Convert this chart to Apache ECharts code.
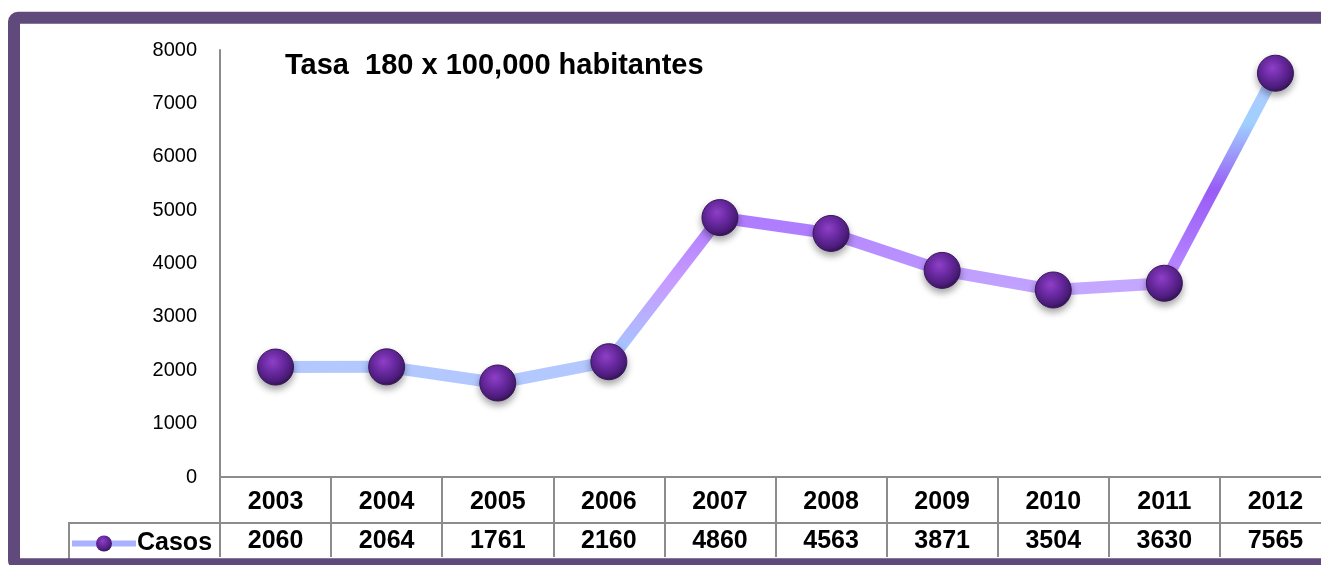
<!DOCTYPE html>
<html>
<head>
<meta charset="utf-8">
<script src="https://cdn.jsdelivr.net/npm/echarts@6/dist/echarts.min.js"></script>
<style>
html,body{margin:0;padding:0;background:#fff;overflow:hidden;}
#chart{width:1340px;height:565px;}
</style>
</head>
<body>
<div id="chart"></div>
<script>
// ---- data ----
const years = ['2003','2004','2005','2006','2007','2008','2009','2010','2011','2012'];
const casos = [2060, 2064, 1761, 2160, 4860, 4563, 3871, 3504, 3630, 7565];
const seriesName = 'Casos';
const titleText = 'Tasa  180 x 100,000 habitantes';
const yTicks = [0, 8000, 1000]; // min, max, interval

// ---- styling (per-segment line gradients, top -> bottom) ----
const segStops = [
  [[0,'#b3c8ff'],[1,'#b3c8ff']],
  [[0,'#b3c8ff'],[1,'#b3c8ff']],
  [[0,'#b3c8ff'],[1,'#b3c8ff']],
  [[0,'#ad78ff'],[0.45,'#c79cff'],[0.8,'#aebcff'],[1,'#9ccfff']],
  [[0,'#ae7bff'],[1,'#b080ff']],
  [[0,'#b589ff'],[1,'#bb95ff']],
  [[0,'#bf9eff'],[1,'#c2a3ff']],
  [[0,'#c4a7ff'],[1,'#c4a7ff']],
  [[0,'#b9c6ff'],[0.25,'#9fd0ff'],[0.55,'#995cf5'],[0.85,'#b07eff'],[1,'#c898ff']]
];

const chart = echarts.init(document.getElementById('chart'), null, {renderer:'canvas'});
const FONT = '"Liberation Sans", Arial, sans-serif';

const segSeries = segStops.map((stops, i) => ({
  type: 'line',
  name: 'seg' + i,
  z: 2,
  silent: true,
  showSymbol: false,
  symbol: 'none',
  connectNulls: false,
  data: casos.map((v, j) => (j === i || j === i + 1) ? v : '-'),
  lineStyle: {
    width: 12,
    cap: 'butt',
    color: {type:'linear', x:0, y:0, x2:0, y2:1,
      colorStops: stops.map(s => ({offset:s[0], color:s[1]}))}
  },
  animation: false
}));

const markerColor = {type:'radial', x:0.42, y:0.35, r:0.65, colorStops:[
  {offset:0, color:'#8f40c8'},
  {offset:0.45, color:'#6b2aa3'},
  {offset:0.85, color:'#4a1c78'},
  {offset:1, color:'#331452'}
]};

const option = {
  backgroundColor: '#ffffff',
  animation: false,
  textStyle: {fontFamily: FONT},
  title: {
    text: titleText,
    left: 280, top: 46,
    textStyle: {fontFamily: FONT, fontSize: 29, fontWeight: 'bold', color: '#000'}
  },
  legend: {
    data: [seriesName],
    left: 64, top: 526,
    itemWidth: 64, itemHeight: 20,
    textStyle: {fontFamily: FONT, fontSize: 25, fontWeight: 'bold', color: '#000', padding:[0,0,0,-4]},
    lineStyle: {color: '#a9b2ff', width: 6, opacity: 1},
    itemStyle: {color: markerColor, borderWidth: 0, opacity: 1}
  },
  grid: {left: 220, right: 9, top: 50, bottom: 88, containLabel: false},
  xAxis: [
    {
      type: 'category', data: years, position: 'bottom',
      boundaryGap: true,
      axisLine: {show: true, lineStyle: {color: '#8c8c8c', width: 2}},
      axisTick: {show: true, interval: 0, length: 80, alignWithLabel: false,
        lineStyle: {color: '#8c8c8c', width: 2}},
      axisLabel: {interval: 0, margin: 13, fontFamily: FONT, fontSize: 25, fontWeight: 'bold', color: '#000'},
      splitLine: {show: false}
    },
    {
      type: 'category', data: years, position: 'bottom', offset: 46,
      boundaryGap: true,
      axisLine: {show: false},
      axisTick: {show: false},
      axisLabel: {interval: 0, margin: 6, fontFamily: FONT, fontSize: 25, fontWeight: 'bold', color: '#000',
        formatter: (v, i) => String(casos[i])},
      splitLine: {show: false}
    }
  ],
  yAxis: {
    type: 'value', min: yTicks[0], max: yTicks[1], interval: yTicks[2],
    axisLine: {show: true, lineStyle: {color: '#8c8c8c', width: 2}},
    axisTick: {show: false},
    splitLine: {show: false},
    axisLabel: {margin: 23, fontFamily: FONT, fontSize: 20, color: '#000',
      formatter: v => String(v)}
  },
  graphic: [
    // table horizontal line between year row and value row
    {type: 'line', z: 1, shape: {x1: 68, y1: 523, x2: 1340, y2: 523}, style: {stroke: '#8c8c8c', lineWidth: 2}},
    // legend cell left border
    {type: 'line', z: 1, shape: {x1: 69, y1: 523, x2: 69, y2: 560}, style: {stroke: '#8c8c8c', lineWidth: 2}},
    // purple frame
    {type: 'rect', z: 100, silent: true,
      shape: {x: 14, y: 17.8, width: 1400, height: 546.5, r: 4},
      style: {fill: 'none', stroke: '#604a7b', lineWidth: 12}}
  ],
  series: segSeries.concat([{
    type: 'line',
    name: seriesName,
    z: 5,
    data: casos,
    symbol: 'circle',
    symbolSize: 36,
    showSymbol: true,
    lineStyle: {opacity: 0, width: 12, color: '#b3c8ff'},
    itemStyle: {
      color: markerColor,
      borderColor: '#3a175c', borderWidth: 1,
      shadowColor: 'rgba(0,0,0,0.35)', shadowBlur: 7, shadowOffsetY: 4
    },
    emphasis: {disabled: true},
    animation: false
  }])
};
chart.setOption(option);
</script>
</body>
</html>
